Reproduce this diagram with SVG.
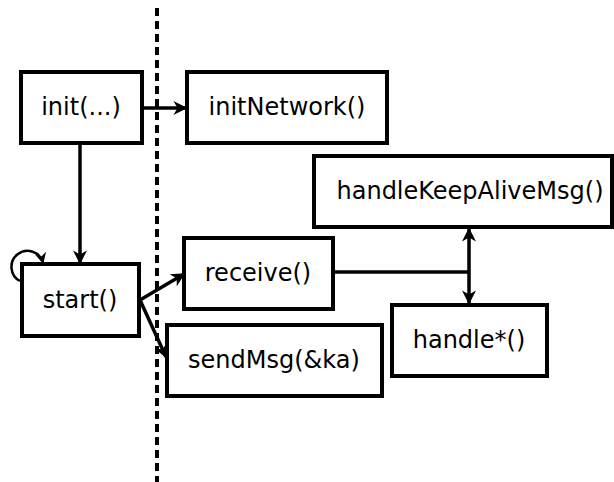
<svg xmlns="http://www.w3.org/2000/svg" width="614" height="482" viewBox="0 0 614 482">
  <style>
    .box { fill: #ffffff; stroke: #000000; stroke-width: 4; }
    .label { font-family: "DejaVu Sans", sans-serif; font-size: 24px; fill: #000000; text-anchor: middle; dominant-baseline: central; }
    .edge { fill: none; stroke: #000000; stroke-width: 3.5; }
    .loop { fill: none; stroke: #000000; stroke-width: 2.5; }
    .divider { fill: none; stroke: #000000; stroke-width: 4; stroke-dasharray: 8 5; }
  </style>
  <defs>
    <marker id="arrow" viewBox="0 0 10 10" refX="9" refY="5" markerWidth="4" markerHeight="4" orient="auto-start-reverse" markerUnits="strokeWidth">
      <path d="M0,0 L10,5 L0,10 L3,5 Z" fill="#000000"/>
    </marker>
    <marker id="arrowSmall" viewBox="0 0 10 10" refX="9" refY="5" markerWidth="4.5" markerHeight="4.5" orient="auto" markerUnits="strokeWidth">
      <path d="M0,0 L10,5 L0,10 L3,5 Z" fill="#000000"/>
    </marker>
  </defs>
  <rect width="614" height="482" fill="#ffffff"/>

  <!-- boundary line -->
  <line class="divider" x1="157" y1="8" x2="157" y2="482"/>

  <g id="connectors">
    <line class="edge" x1="143" y1="108" x2="186" y2="108" marker-end="url(#arrow)"/>
    <line class="edge" x1="80" y1="144" x2="80" y2="263" marker-end="url(#arrow)"/>
    <path class="loop" d="M20,281 A16,16 0 1 1 43,263" marker-end="url(#arrowSmall)"/>
    <line class="edge" x1="140" y1="300" x2="184" y2="274" marker-end="url(#arrow)"/>
    <line class="edge" x1="140" y1="300" x2="166" y2="357" marker-end="url(#arrow)"/>
    <line class="edge" x1="333" y1="272" x2="469" y2="272"/>
    <line class="edge" x1="469" y1="229" x2="469" y2="303" marker-start="url(#arrow)" marker-end="url(#arrow)"/>
  </g>

  <g id="init">
    <rect class="box" x="21" y="72" width="121" height="71"/>
    <text class="label" x="81" y="107">init(...)</text>
  </g>
  <g id="initNetwork">
    <rect class="box" x="187" y="72" width="200" height="71"/>
    <text class="label" x="287" y="107">initNetwork()</text>
  </g>
  <g id="start">
    <rect class="box" x="22" y="264" width="117" height="72"/>
    <text class="label" x="80" y="300">start()</text>
  </g>
  <g id="receive">
    <rect class="box" x="184" y="238" width="149" height="71"/>
    <text class="label" x="258" y="273">receive()</text>
  </g>
  <g id="handleKeepAliveMsg">
    <rect class="box" x="314" y="156" width="298" height="71"/>
    <text class="label" x="470" y="191">handleKeepAliveMsg()</text>
  </g>
  <g id="handle">
    <rect class="box" x="392" y="305" width="155" height="71"/>
    <text class="label" x="469" y="340">handle*()</text>
  </g>
  <g id="sendMsg">
    <rect class="box" x="167" y="325" width="215" height="71"/>
    <text class="label" x="274" y="360">sendMsg(&amp;ka)</text>
  </g>
</svg>
